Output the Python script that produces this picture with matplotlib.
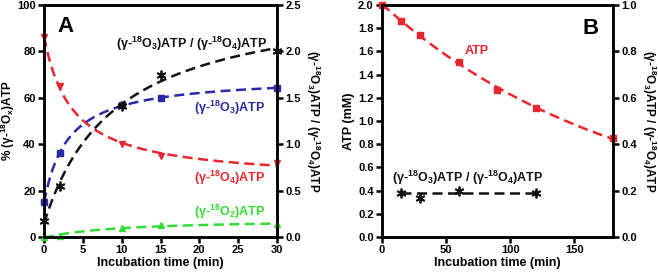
import numpy as np
import matplotlib.pyplot as plt

plt.rcParams['font.family'] = 'Liberation Sans'
plt.rcParams['font.weight'] = 'bold'
plt.rcParams['axes.labelweight'] = 'bold'
plt.rcParams['mathtext.fontset'] = 'custom'
plt.rcParams['mathtext.rm'] = 'Liberation Sans:bold'
plt.rcParams['mathtext.bf'] = 'Liberation Sans:bold'
plt.rcParams['mathtext.it'] = 'Liberation Sans:bold'
plt.rcParams['mathtext.default'] = 'bf'

# panel A
t_a = np.array([0, 2, 10, 15, 30])
o4 = np.array([86, 65, 40, 35, 32])
o3 = np.array([15, 36, 57, 60, 64])
o2 = np.array([0, 0.5, 4, 5, 5.5])
ratio_a = np.array([0.17, 0.55, 1.41, 1.75, 2.0])

# panel B
t_b = np.array([0, 15, 30, 60, 90, 120, 180])
atp = np.array([2.0, 1.86, 1.74, 1.51, 1.27, 1.11, 0.85])
t_b2 = np.array([15, 30, 60, 120])
ratio_b = np.array([0.19, 0.17, 0.20, 0.19])

RATIO = '(γ-$^{18}$O$_3$)ATP / (γ-$^{18}$O$_4$)ATP'
RED, BLUE, GREEN, BLACK = '#e8262b', '#2a2aa8', '#33dd33', '#111111'
DASH = (0, (4, 2.2))
STAR = (6, 2, 0)


def fit_curve(t, y, kind):
    # exp: y = a + b*exp(-k t); hyp: y = a + b*t/(k + t)
    best = None
    for k in np.geomspace(0.001, 200, 4000):
        g = np.exp(-k * t) if kind == 'exp' else t / (k + t)
        A = np.column_stack([np.ones_like(t, dtype=float), g])
        coef, *_ = np.linalg.lstsq(A, y, rcond=None)
        err = np.sum((A @ coef - y) ** 2)
        if best is None or err < best[0]:
            best = (err, coef, k)
    _, (a, b), k = best
    if kind == 'exp':
        return lambda x: a + b * np.exp(-k * x)
    return lambda x: a + b * x / (k + x)


def style(ax):
    for s in ax.spines.values():
        s.set_linewidth(1.8)
    ax.tick_params(width=1.8, length=4, labelsize=8, pad=2)


fig = plt.figure(figsize=(6.58, 2.74), dpi=100)

# ---- A
ax = fig.add_axes([0.067, 0.135, 0.354, 0.847])
ax2 = ax.twinx()
tt = np.linspace(0, 30, 200)
for y, c, m in [(o4, RED, 'v'), (o3, BLUE, 's'), (o2, GREEN, '^')]:
    f = fit_curve(t_a, y, 'hyp')
    ax.plot(tt, f(tt), color=c, lw=1.8, ls=DASH)
    ax.plot(t_a, y, m, color=c, ms=4, clip_on=False, zorder=5)
f = fit_curve(t_a, ratio_a, 'hyp')
ax2.plot(tt, f(tt), color=BLACK, lw=1.8, ls=DASH)
ax2.plot(t_a, ratio_a, ls='none', marker=STAR, color=BLACK, ms=7, mew=1.3,
         clip_on=False, zorder=5)
ax.set_xlim(0, 30)
ax.set_ylim(0, 100)
ax2.set_ylim(0, 2.5)
ax.set_xticks(np.arange(0, 31, 5))
ax.set_yticks(np.arange(0, 101, 20))
ax2.set_yticks(np.arange(0, 2.51, 0.5))
ax.set_xlabel('Incubation time (min)', fontsize=9, labelpad=1)
ax.set_ylabel('% (γ-$^{18}$O$_x$)ATP', fontsize=8.5, labelpad=0)
ax2.set_ylabel(RATIO, fontsize=8.5, rotation=270, labelpad=15)
style(ax)
style(ax2)
ax.text(0.09, 0.905, 'A', transform=ax.transAxes, fontsize=16, ha='center', va='center')
ax.text(0.96, 0.83, RATIO, transform=ax.transAxes, fontsize=9, ha='right', va='center', color=BLACK)
ax.text(0.95, 0.555, '(γ-$^{18}$O$_3$)ATP', transform=ax.transAxes, fontsize=9, ha='right', va='center', color=BLUE)
ax.text(0.95, 0.255, '(γ-$^{18}$O$_4$)ATP', transform=ax.transAxes, fontsize=9, ha='right', va='center', color=RED)
ax.text(0.95, 0.11, '(γ-$^{18}$O$_2$)ATP', transform=ax.transAxes, fontsize=9, ha='right', va='center', color=GREEN)

# ---- B
bx = fig.add_axes([0.5805, 0.135, 0.351, 0.847])
bx2 = bx.twinx()
tt = np.linspace(0, 180, 200)
f = fit_curve(t_b, atp, 'exp')
bx.plot(tt, f(tt), color=RED, lw=1.8, ls=DASH)
bx.plot(t_b, atp, 's', color=RED, ms=4, clip_on=False, zorder=5)
bx2.plot([t_b2.min(), t_b2.max()], [ratio_b.mean()] * 2, color=BLACK, lw=1.8, ls=DASH)
bx2.plot(t_b2, ratio_b, ls='none', marker=STAR, color=BLACK, ms=7, mew=1.3,
         clip_on=False, zorder=5)
bx.set_xlim(0, 180)
bx.set_ylim(0, 2.0)
bx2.set_ylim(0, 1.0)
bx.set_xticks([0, 50, 100, 150])
bx.set_yticks(np.arange(0, 2.01, 0.2))
bx2.set_yticks(np.arange(0, 1.01, 0.2))
bx.set_xlabel('Incubation time (min)', fontsize=9, labelpad=1)
bx.set_ylabel('ATP (mM)', fontsize=9, labelpad=2)
bx2.set_ylabel(RATIO, fontsize=8.5, rotation=270, labelpad=15)
style(bx)
style(bx2)
bx.text(0.905, 0.9, 'B', transform=bx.transAxes, fontsize=16, ha='center', va='center')
bx.text(0.41, 0.8, 'ATP', transform=bx.transAxes, fontsize=9, ha='center', va='center', color=RED)
bx.text(0.37, 0.255, RATIO, transform=bx.transAxes, fontsize=9, ha='center', va='center', color=BLACK)

fig.savefig('out.png', dpi=100)
